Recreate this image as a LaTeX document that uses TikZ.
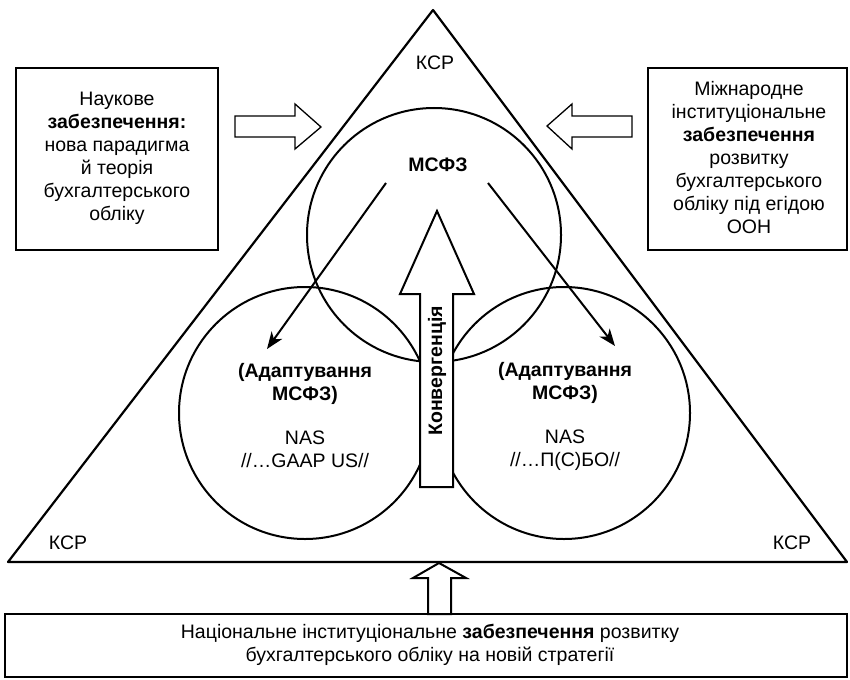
\documentclass[tikz,border=0pt]{standalone}
\usepackage{fontspec}
\setmainfont{Liberation Sans}
\usetikzlibrary{arrows.meta}
\begin{document}
\begin{tikzpicture}[x=1pt,y=-1pt,
  txt/.style={font=\fontsize{19.5}{23}\selectfont, align=center, inner sep=0pt},
  boxline/.style={draw, line width=2.6pt},
  ring/.style={circle, draw, line width=2pt, inner sep=0pt},
  hollow/.style={draw, fill=white, line width=1.3pt, line join=miter},
  fatarrow/.style={draw, fill=white, line width=2pt, line join=miter},
  pointer/.style={line width=2pt, -{Stealth[length=17pt,width=13pt,inset=5pt]}}]
\useasboundingbox (0,0) rectangle (850,679);
% triangle
\coordinate (apex) at (433,10);
\coordinate (bl) at (8,562);
\coordinate (br) at (847,562);
\draw[line width=2.2pt, line join=round] (apex) -- (bl) -- (br) -- cycle;
% circles
\node[ring, minimum size=254pt] (ctop) at (434,235) {};
\node[ring, minimum size=252pt] (cleft) at (305,413) {};
\node[ring, minimum size=252pt] (cright) at (564,413) {};
% side boxes
\node[boxline, minimum width=202pt, minimum height=182pt] (lbox) at (117,159) {};
\node[boxline, minimum width=199pt, minimum height=182pt] (rbox) at (747.5,159) {};
\node[boxline, minimum width=842pt, minimum height=63pt] (bbox) at (426,645.5) {};
\node[txt] (ltext) at (117,158) {Наукове\\\textbf{забезпечення:}\\нова парадигма\\й теорія\\бухгалтерського\\обліку};
\node[txt] (rtext) at (749,158) {Міжнародне\\інституціональне\\\textbf{забезпечення}\\розвитку\\бухгалтерського\\обліку під егідою\\ООН};
\node[txt] (btext) at (430,645) {Національне інституціональне \textbf{забезпечення} розвитку\\бухгалтерського обліку на новій стратегії};
% hollow side arrows
\draw[hollow] (235,116) -- (295,116) -- (295,104) -- (321,127) -- (295,149) -- (295,137) -- (235,137) -- cycle;
\draw[hollow] (632,116) -- (572,116) -- (572,104) -- (547,126) -- (572,149) -- (572,137) -- (632,137) -- cycle;
% bottom up arrow
\draw[fatarrow] (439,563) -- (466,578) -- (451,578) -- (451,614) -- (428,614) -- (428,578) -- (413,578) -- cycle;
% convergence arrow
\draw[fatarrow] (437,211) -- (474,294) -- (453,294) -- (453,487) -- (420,487) -- (420,294) -- (400,294) -- cycle;
\node[txt, font=\fontsize{19.5}{23}\selectfont\bfseries, rotate=90] (conv) at (437,371) {Конвергенція};
% labels
\node[txt, font=\fontsize{19.5}{23}\selectfont\bfseries] (msfz) at (438,165) {МСФЗ};
\node[txt] (kcp1) at (435,63) {КСР};
\node[txt] (kcp2) at (68,543) {КСР};
\node[txt] (kcp3) at (792,543) {КСР};
\node[txt] (ltx) at (305,416) {\textbf{(Адаптування}\\\textbf{МСФЗ)}\\[21pt]NAS\\//…GAAP US//};
\node[txt] (rtx) at (565,416) {\textbf{(Адаптування}\\\textbf{МСФЗ)}\\[21pt]NAS\\//…П(С)БО//};
% pointers
\coordinate (s1) at (386,183);
\coordinate (e1) at (267,349);
\coordinate (s2) at (488,183);
\coordinate (e2) at (615,346);
\draw[pointer] (s1) -- (e1);
\draw[pointer] (s2) -- (e2);
\end{tikzpicture}
\end{document}
